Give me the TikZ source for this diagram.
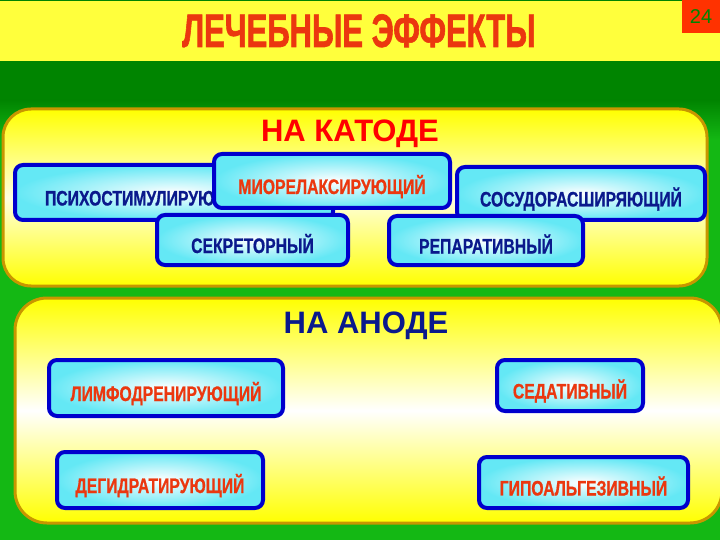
\documentclass[tikz,border=0pt]{standalone}
\usepackage{fontspec}
\newfontfamily\headfont{Liberation Sans}
\newfontfamily\condfont[FakeStretch=0.75,FakeBold=0.8]{Liberation Sans}
\newfontfamily\titlefont[FakeStretch=0.66,FakeBold=1.2]{Liberation Sans}
\definecolor{dkgreen}{RGB}{0,132,0}
\definecolor{ltgreen}{RGB}{20,184,20}
\definecolor{banneryellow}{RGB}{255,255,60}
\definecolor{panelborder}{RGB}{200,150,0}
\definecolor{boxblue}{RGB}{0,0,205}
\definecolor{boxcyan}{RGB}{100,232,245}
\definecolor{txtblue}{RGB}{10,25,140}
\definecolor{txtred}{RGB}{235,55,15}
\definecolor{pagered}{RGB}{255,50,0}

\begin{document}
\begin{tikzpicture}[x=1pt,y=-1pt,
  effect/.style={draw=boxblue,line width=4pt,rounded corners=8pt,
    inner color=white,outer color=boxcyan,text height=26pt,text depth=0pt,
    font=\condfont\bfseries\fontsize{21}{23}\selectfont},
  blueeffect/.style={effect,text=txtblue},
  redeffect/.style={effect,text=txtred},
  panel/.style={draw=panelborder,line width=3pt,top color=yellow,bottom color=yellow},
  heading/.style={anchor=base,font=\headfont\bfseries\fontsize{31}{33}\selectfont}]
  \useasboundingbox (0,0) rectangle (720,540);

  % background and banner
  \fill[dkgreen] (0,0) rectangle (720,100);
  \shade[top color=dkgreen,bottom color=ltgreen] (0,100) rectangle (720,140);
  \fill[ltgreen] (0,140) rectangle (720,540);
  \shade[top color=banneryellow,middle color=white,bottom color=banneryellow] (0,2) rectangle (720,61);
  \fill[pagered] (682,0) rectangle (720,33);
  \node[font=\headfont\fontsize{20}{22}\selectfont,text=dkgreen] (pagenum) at (701,17) {24};
  \node[anchor=base,text=txtred,font=\titlefont\bfseries\fontsize{47}{50}\selectfont] (title) at (359,47) {ЛЕЧЕБНЫЕ ЭФФЕКТЫ};

  % panels
  \path[panel,middle color=yellow!12!white,rounded corners=28pt] (3,109) rectangle (707,286);
  \path[panel,middle color=white,rounded corners=32pt] (15,298) rectangle (722,523);
  \node[heading,text=red] (katode) at (350,142) {НА КАТОДЕ};
  \node[heading,text=txtblue] (anode) at (366,333) {НА АНОДЕ};

  % cathode effects
  \node[blueeffect,text width=258pt,inner xsep=30pt,align=left,minimum height=55pt] (psycho) at (174,192.5) {ПСИХОСТИМУЛИРУЮЩИЙ};
  \node[blueeffect,minimum width=248pt,minimum height=53pt] (sosud) at (581,193.5) {СОСУДОРАСШИРЯЮЩИЙ};
  \node[redeffect,minimum width=236pt,minimum height=54pt] (mio) at (332,181) {МИОРЕЛАКСИРУЮЩИЙ};
  \node[blueeffect,minimum width=191pt,minimum height=50pt] (sekr) at (252.5,240) {СЕКРЕТОРНЫЙ};
  \node[blueeffect,minimum width=194pt,minimum height=49pt] (repar) at (486,240.5) {РЕПАРАТИВНЫЙ};

  % anode effects
  \node[redeffect,minimum width=234pt,minimum height=56pt] (limf) at (166,388) {ЛИМФОДРЕНИРУЮЩИЙ};
  \node[redeffect,minimum width=206pt,minimum height=56pt] (degidr) at (160,480) {ДЕГИДРАТИРУЮЩИЙ};
  \node[redeffect,minimum width=146pt,minimum height=51pt] (sedat) at (570,385.5) {СЕДАТИВНЫЙ};
  \node[redeffect,minimum width=209pt,minimum height=51pt] (gipo) at (583.5,482.5) {ГИПОАЛЬГЕЗИВНЫЙ};
\end{tikzpicture}
\end{document}
